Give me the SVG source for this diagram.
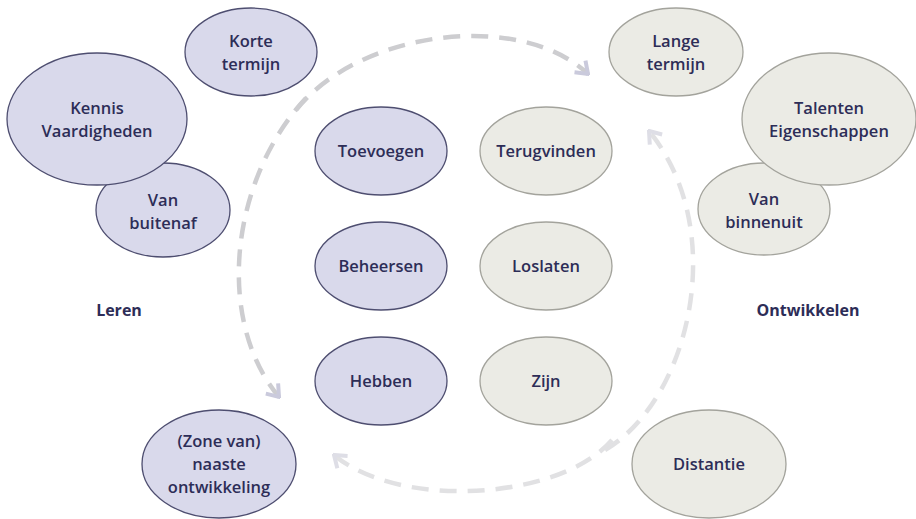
<svg xmlns="http://www.w3.org/2000/svg" width="916" height="519" viewBox="0 0 916 519">
  <style>
    .lav ellipse { fill: #d9d9eb; stroke: #4e4e70; stroke-width: 1.3; }
    .gry ellipse { fill: #ebebe5; stroke: #a3a39c; stroke-width: 1.3; }
    text { font-family: "Open Sans", "Noto Sans", "Liberation Sans", sans-serif; font-size: 16.5px; font-weight: 600; fill: #2d2d57; text-anchor: middle; }
    .head { font-weight: 700; font-size: 16px; }
    .arc { fill: none; stroke: #cdcdd0; stroke-width: 4.5; stroke-dasharray: 17 11; stroke-linecap: butt; }
    .arc.light { stroke: #e1e1e3; }
  </style>
  <defs>
    <marker id="chev" viewBox="-14 -10 16 20" markerWidth="16" markerHeight="20" markerUnits="userSpaceOnUse" refX="0" refY="0" orient="auto">
      <path d="M-11,-8 L0,0 L-11,8" fill="none" stroke="#cacadc" stroke-width="4"/>
    </marker>
    <marker id="chevLight" viewBox="-14 -10 16 20" markerWidth="16" markerHeight="20" markerUnits="userSpaceOnUse" refX="0" refY="0" orient="auto">
      <path d="M-11,-8 L0,0 L-11,8" fill="none" stroke="#dedee6" stroke-width="4"/>
    </marker>
  </defs>
  <rect width="916" height="519" fill="#ffffff"/>

  <!-- dashed cycle arcs -->
  <g id="connectors">
    <path class="arc" d="M296,110 C360,30 520,10 588,74" marker-end="url(#chev)"/>
    <path class="arc" d="M306,98 C230,180 215,320 279,397" marker-end="url(#chev)"/>
    <path class="arc light" d="M605,450 C690,400 730,230 649,131" marker-end="url(#chevLight)"/>
    <path class="arc light" d="M612,440 C560,500 400,510 334,455" marker-end="url(#chevLight)"/>
  </g>

  <!-- learning side -->
  <g id="korte-termijn" class="lav">
    <ellipse cx="251" cy="52" rx="66" ry="44"/>
    <text x="251" y="47">Korte</text>
    <text x="251" y="70">termijn</text>
  </g>
  <g id="van-buitenaf" class="lav">
    <ellipse cx="163" cy="210" rx="67" ry="47"/>
    <text x="163" y="206">Van</text>
    <text x="163" y="229">buitenaf</text>
  </g>
  <g id="kennis-vaardigheden" class="lav">
    <ellipse cx="97" cy="119" rx="90" ry="66"/>
    <text x="97" y="114">Kennis</text>
    <text x="97" y="137">Vaardigheden</text>
  </g>
  <g id="toevoegen" class="lav">
    <ellipse cx="381" cy="151" rx="66" ry="44"/>
    <text x="381" y="157">Toevoegen</text>
  </g>
  <g id="beheersen" class="lav">
    <ellipse cx="381" cy="266" rx="66" ry="44"/>
    <text x="381" y="272">Beheersen</text>
  </g>
  <g id="hebben" class="lav">
    <ellipse cx="381" cy="381" rx="66" ry="44"/>
    <text x="381" y="387">Hebben</text>
  </g>
  <g id="naaste-ontwikkeling" class="lav">
    <ellipse cx="219" cy="464" rx="77" ry="54"/>
    <text x="219" y="447">(Zone van)</text>
    <text x="219" y="470">naaste</text>
    <text x="219" y="493">ontwikkeling</text>
  </g>
  <g id="leren">
    <text class="head" x="119" y="316">Leren</text>
  </g>

  <!-- development side -->
  <g id="lange-termijn" class="gry">
    <ellipse cx="676" cy="52" rx="67" ry="44"/>
    <text x="676" y="47">Lange</text>
    <text x="676" y="70">termijn</text>
  </g>
  <g id="van-binnenuit" class="gry">
    <ellipse cx="764" cy="209" rx="66" ry="46"/>
    <text x="764" y="205">Van</text>
    <text x="764" y="228">binnenuit</text>
  </g>
  <g id="talenten-eigenschappen" class="gry">
    <ellipse cx="829" cy="119" rx="87" ry="66"/>
    <text x="829" y="114">Talenten</text>
    <text x="829" y="137">Eigenschappen</text>
  </g>
  <g id="terugvinden" class="gry">
    <ellipse cx="546" cy="151" rx="66" ry="44"/>
    <text x="546" y="157">Terugvinden</text>
  </g>
  <g id="loslaten" class="gry">
    <ellipse cx="546" cy="266" rx="66" ry="44"/>
    <text x="546" y="272">Loslaten</text>
  </g>
  <g id="zijn" class="gry">
    <ellipse cx="546" cy="381" rx="66" ry="44"/>
    <text x="546" y="387">Zijn</text>
  </g>
  <g id="distantie" class="gry">
    <ellipse cx="709" cy="464" rx="77" ry="54"/>
    <text x="709" y="470">Distantie</text>
  </g>
  <g id="ontwikkelen">
    <text class="head" x="808" y="316">Ontwikkelen</text>
  </g>
</svg>
